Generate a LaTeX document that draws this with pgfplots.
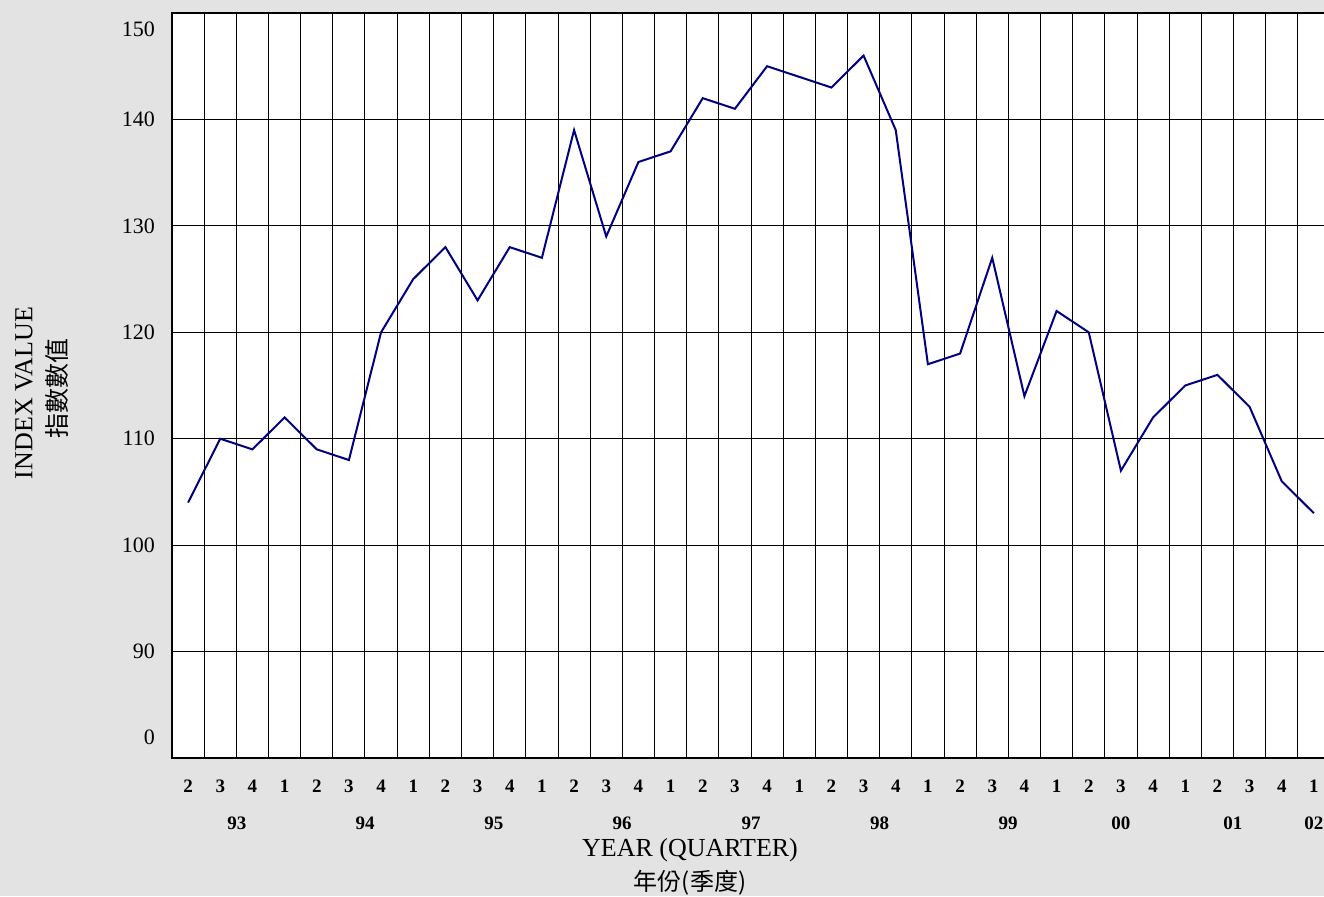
\documentclass[border=0pt]{standalone}
\usepackage{fontspec}
\setmainfont{Liberation Serif}
\newfontfamily\cjk{Noto Sans CJK TC}
\usepackage{pgfplots}
\pgfplotsset{compat=1.18}
\definecolor{bggray}{HTML}{E3E3E3}
\definecolor{navyline}{HTML}{000080}
\begin{document}
\begin{tikzpicture}
\fill[bggray] (0,0) rectangle (662pt,448pt);
\begin{axis}[
  at={(86pt,69pt)}, anchor=south west,
  scale only axis,
  width=579pt, height=372.5pt,
  xmin=-0.5, xmax=35.5,
  ymin=80, ymax=150,
  axis background/.style={fill=white},
  axis line style={black, line width=0.6pt},
  clip=false,
  /pgf/number format/assume math mode=true,
  major tick length=0pt,
  xtick={0,1,...,35},
  xticklabels={2,3,4,1,2,3,4,1,2,3,4,1,2,3,4,1,2,3,4,1,2,3,4,1,2,3,4,1,2,3,4,1,2,3,4,1},
  xticklabel style={anchor=center, yshift=-14pt, font=\bfseries\fontsize{9.5}{10}\selectfont},
  extra x ticks={0.5,1.5,...,34.5},
  extra x tick labels={},
  extra x tick style={grid=major},
  ytick={81.97,90,100,110,120,130,140,148.5},
  yticklabels={0,90,100,110,120,130,140,150},
  yticklabel style={anchor=east, xshift=-5pt, font=\fontsize{11}{12}\selectfont},
  extra y ticks={90,100,110,120,130,140},
  extra y tick labels={},
  extra y tick style={grid=major},
  major grid style={black, line width=0.5pt},
]
\addplot[navyline, line width=1pt] coordinates {
(0,104) (1,110) (2,109) (3,112) (4,109) (5,108) (6,120) (7,125) (8,128) (9,123)
(10,128) (11,127) (12,139) (13,129) (14,136) (15,137) (16,142) (17,141) (18,145) (19,144)
(20,143) (21,146) (22,139) (23,117) (24,118) (25,127) (26,114) (27,122) (28,120) (29,107)
(30,112) (31,115) (32,116) (33,113) (34,106) (35,103)
};
\foreach \xx/\yy in {1.52/93,5.5/94,9.51/95,13.49/96,17.5/97,21.5/98,25.49/99,29.0/00,32.48/01,35.0/02}{
  \edef\tmp{\noexpand\node[font=\noexpand\bfseries\noexpand\fontsize{9.5}{10}\noexpand\selectfont, anchor=center] at ([yshift=-32.5pt]axis cs:\xx,80) {\yy};}
  \tmp
}
\end{axis}
\node[anchor=center, font=\fontsize{13}{15}\selectfont] at (345pt,23pt) {YEAR (QUARTER)};
\node[anchor=center, font=\cjk\fontsize{12}{14}\selectfont] at (345pt,6.5pt) {年份(季度)};
\node[anchor=center, rotate=90, font=\fontsize{13}{15}\selectfont] at (12pt,251.5pt) {INDEX VALUE};
\node[anchor=center, rotate=90, font=\cjk\fontsize{12.5}{14}\selectfont] at (28.5pt,254pt) {指數數值};
\pgfresetboundingbox
\path[use as bounding box] (0,0) rectangle (662pt,448pt);
\end{tikzpicture}
\end{document}
